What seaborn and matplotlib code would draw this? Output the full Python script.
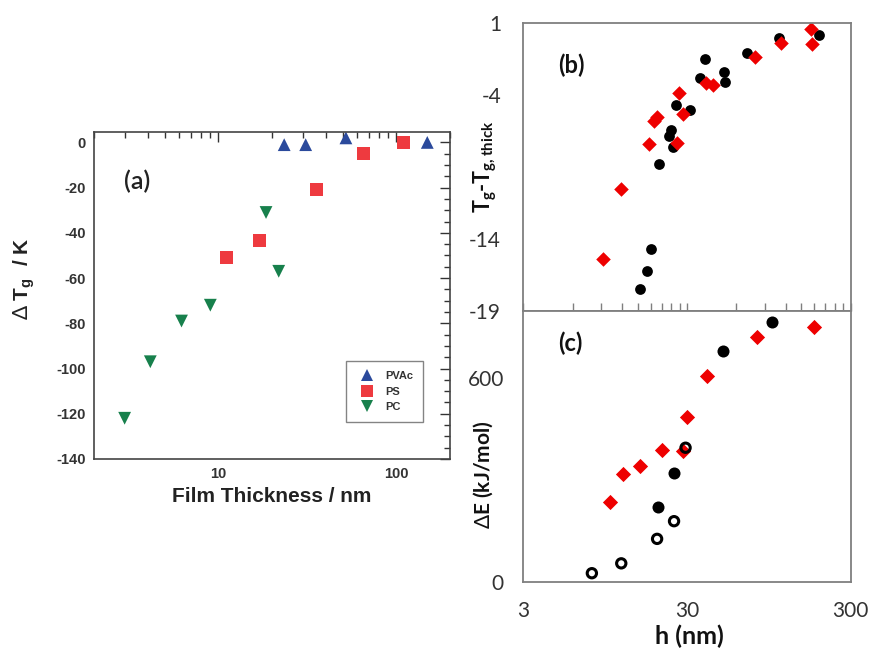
import matplotlib
matplotlib.use('Agg')
import matplotlib.pyplot as plt
import numpy as np
import pandas as pd
import seaborn as sns
from matplotlib.ticker import FixedLocator, NullFormatter

sns.set_style('white')
plt.rcParams['font.family'] = ['Liberation Sans', 'DejaVu Sans']
plt.rcParams['axes.unicode_minus'] = False
plt.rcParams['mathtext.fontset'] = 'custom'
plt.rcParams['mathtext.rm'] = 'Lato'
plt.rcParams['mathtext.bf'] = 'Lato:bold'

# ---- panel (a): Tg shift vs film thickness
pvac_h = [23.4, 30.9, 52, 149]
pvac_dtg = [-1, -1, 2, 0]
ps_h = [11.1, 17.0, 35.6, 65.6, 110]
ps_dtg = [-51, -43.5, -21, -5, 0]
pc_h = [2.97, 4.14, 6.2, 9.0, 18.5, 21.8]
pc_dtg = [-122, -97, -79, -72, -31, -57]

# ---- panel (b): Tg - Tg,thick vs h
b_black_h = [38.7, 35.9, 50.6, 51.3, 25.6, 31.2, 23.9, 23.3, 24.5, 20.2,
             18.2, 17.05, 15.5, 69.4, 110, 192]
b_black_dt = [-1.54, -2.86, -2.40, -3.13, -4.71, -5.05, -6.44, -6.86, -7.60,
              -8.80, -14.7, -16.2, -17.5, -1.08, -0.08, 0.15]
b_red_h = [172, 175, 112, 78.4, 39.1, 43.5, 26.8, 28.5, 18.8, 19.7, 17.5,
           26.2, 11.9, 9.2]
b_red_dt = [0.54, -0.50, -0.43, -1.40, -3.20, -3.32, -3.85, -5.33, -5.80,
            -5.52, -7.41, -7.36, -10.55, -15.4]

# ---- panel (c): activation energy vs h
c_red_h = [10.1, 12.2, 15.4, 21.0, 28.4, 29.9, 39.6, 79.9, 178]
c_red_e = [235, 317, 340, 387, 385, 485, 606, 719, 748]
c_full_h = [20.0, 25.0, 49.9, 99.2]
c_full_e = [221, 319, 679, 765]
c_open_h = [7.87, 11.9, 19.7, 25.0, 29.4]
c_open_e = [25, 54, 126, 178, 394]

fig = plt.figure(figsize=(8.71, 6.48), dpi=100)
ax_a = fig.add_axes([0.108, 0.2917, 0.4087, 0.5046])
ax_b = fig.add_axes([0.6008, 0.5201, 0.3759, 0.4449])
ax_c = fig.add_axes([0.6008, 0.1023, 0.3759, 0.4177])

# panel (a)
df_a = pd.DataFrame({
    'h': pvac_h + ps_h + pc_h,
    'dtg': pvac_dtg + ps_dtg + pc_dtg,
    'polymer': ['PVAc'] * len(pvac_h) + ['PS'] * len(ps_h) + ['PC'] * len(pc_h),
})
sns.scatterplot(data=df_a, x='h', y='dtg', hue='polymer', style='polymer',
                palette={'PVAc': '#2b4a9c', 'PS': '#ee3a3f', 'PC': '#17804c'},
                markers={'PVAc': '^', 'PS': 's', 'PC': 'v'},
                s=85, linewidth=0, ax=ax_a)
ax_a.set_xscale('log')
ax_a.set_xlim(2, 200)
ax_a.set_ylim(-140, 4.6)
ax_a.set_yticks(np.arange(-140, 1, 20))
ax_a.yaxis.set_minor_locator(FixedLocator(np.arange(-140, 5, 5)))
ax_a.set_xticks([10, 100])
ax_a.set_xticklabels(['10', '100'])
ax_a.tick_params(which='both', direction='in', top=True, right=True,
                 colors='#333333', labelsize=10.5, width=1)
ax_a.tick_params(which='major', length=7, pad=6)
ax_a.tick_params(which='minor', length=4)
for lab in ax_a.get_xticklabels() + ax_a.get_yticklabels():
    lab.set_fontweight('bold')
for sp in ax_a.spines.values():
    sp.set_color('#444444')
    sp.set_linewidth(1.2)
ax_a.set_xlabel('Film Thickness / nm', fontsize=15, fontweight='bold', color='#222222')
ax_a.set_ylabel(r'$\Delta$ T$_\mathregular{g}$  / K', fontsize=15, fontweight='bold',
                color='#222222')
ax_a.xaxis.set_label_coords(0.5, -0.085)
ax_a.yaxis.set_label_coords(-0.16, 0.55)
ax_a.text(0.085, 0.85, '(a)', transform=ax_a.transAxes, fontsize=18,
          family='Lato', fontweight='semibold', va='center', color='#222222')
leg = ax_a.legend(loc='lower right', bbox_to_anchor=(0.94, 0.095), frameon=True,
                  fancybox=False, edgecolor='#666666', prop={'weight': 'bold', 'size': 8},
                  handletextpad=0.6, borderpad=0.9, labelspacing=0.5, markerscale=0.9)
leg.get_frame().set_linewidth(1.0)
for t in leg.get_texts():
    t.set_color('#333333')

# panels (b) and (c): shared log x axis 3..300
minor_x = [m * d for d in (3, 30) for m in range(2, 10)]
for ax in (ax_b, ax_c):
    ax.set_xscale('log')
    ax.set_xlim(3, 300)
    ax.xaxis.set_major_locator(FixedLocator([3, 30, 300]))
    ax.xaxis.set_minor_locator(FixedLocator(minor_x))
    ax.xaxis.set_minor_formatter(NullFormatter())
    for sp in ax.spines.values():
        sp.set_color('#7f7f7f')
        sp.set_linewidth(1.3)

sns.scatterplot(x=b_black_h, y=b_black_dt, color='black', marker='o', s=60,
                linewidth=0, ax=ax_b)
sns.scatterplot(x=b_red_h, y=b_red_dt, color='#ee0000', marker='D', s=55,
                linewidth=0, ax=ax_b)
ax_b.set_ylim(-19, 1)
ax_b.set_yticks([1, -4, -9, -14, -19])
ax_b.set_yticklabels(['1', '-4', '', '-14', '-19'])
ax_b.set_xticklabels([])
ax_b.tick_params(axis='y', which='both', length=0, pad=16, labelsize=15,
                 labelcolor='#333333')
ax_b.tick_params(axis='x', which='both', direction='in', bottom=True, top=False,
                 color='#7f7f7f', length=6, width=1)
for lab in ax_b.get_yticklabels():
    lab.set_family('Lato')
ax_b.set_ylabel(r'T$_\mathregular{g}$-T$_\mathregular{g,thick}$', fontsize=15.5,
                fontweight='bold', family='Lato', color='#111111')
ax_b.yaxis.set_label_coords(-0.075, 0.5)
ax_b.text(0.105, 0.853, '(b)', transform=ax_b.transAxes, fontsize=17,
          family='Lato', fontweight='bold', va='center', color='#111111')

sns.scatterplot(x=c_red_h, y=c_red_e, color='#ee0000', marker='D', s=60,
                linewidth=0, ax=ax_c)
sns.scatterplot(x=c_full_h, y=c_full_e, color='black', marker='o', s=75,
                linewidth=0, ax=ax_c)
sns.scatterplot(x=c_open_h, y=c_open_e, facecolor='none', edgecolor='black',
                marker='o', s=45, linewidth=2.2, ax=ax_c)
ax_c.set_ylim(0, 796)
ax_c.set_yticks([0, 600])
ax_c.yaxis.set_minor_locator(FixedLocator([100, 200, 300, 400, 500, 700]))
ax_c.tick_params(axis='y', which='major', length=0, pad=14, labelsize=15,
                 labelcolor='#333333')
ax_c.tick_params(axis='y', which='minor', direction='in', length=6, width=1,
                 color='#7f7f7f')
ax_c.tick_params(axis='x', which='major', length=0, pad=14, labelsize=15,
                 labelcolor='#333333')
ax_c.tick_params(axis='x', which='minor', direction='in', length=6, width=1,
                 color='#7f7f7f')
ax_c.set_xticklabels(['3', '30', '300'])
for lab in ax_c.get_xticklabels() + ax_c.get_yticklabels():
    lab.set_family('Lato')
ax_c.set_ylabel(r'$\Delta$E (kJ/mol)', fontsize=15, fontweight='bold',
                family='Lato', color='#111111')
ax_c.yaxis.set_label_coords(-0.085, 0.395)
ax_c.set_xlabel('h (nm)', fontsize=18, fontweight='bold', family='Lato',
                color='#111111')
ax_c.xaxis.set_label_coords(0.507, -0.16)
ax_c.text(0.105, 0.882, '(c)', transform=ax_c.transAxes, fontsize=17,
          family='Lato', fontweight='bold', va='center', color='#111111')

fig.savefig('out.png', dpi=100)
